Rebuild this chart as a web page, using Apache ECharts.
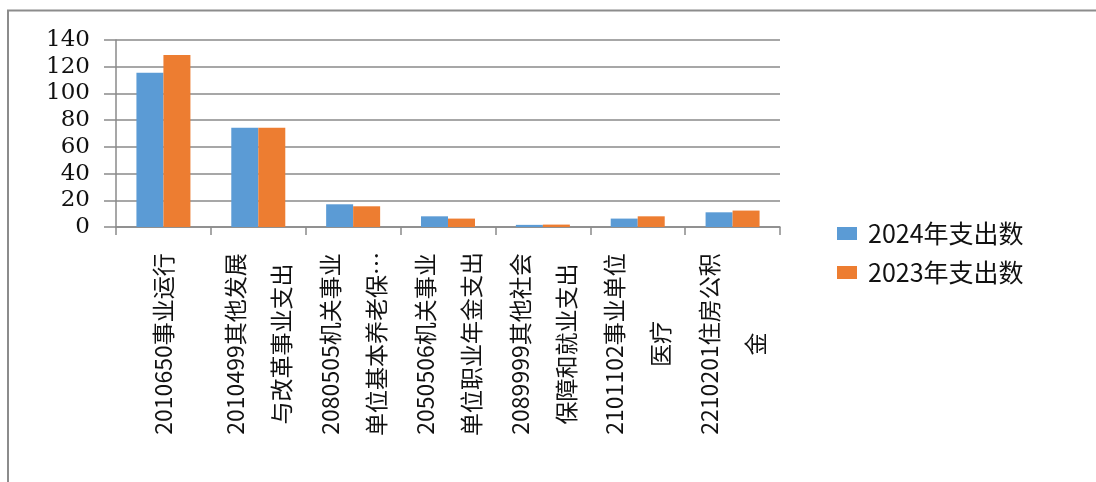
<!DOCTYPE html>
<html>
<head>
<meta charset="utf-8">
<script src="https://cdn.jsdelivr.net/npm/echarts@6/dist/echarts.min.js"></script>
<style>
html,body{margin:0;padding:0;background:#fff;}
#chart{width:1096px;height:482px;}
</style>
</head>
<body>
<div id="chart"></div>
<script>
var categories = [
  "2010650事业运行",
  "2010499其他发展\n与改革事业支出",
  "2080505机关事业\n单位基本养老保…",
  "2050506机关事业\n单位职业年金支出",
  "2089999其他社会\n保障和就业支出",
  "2101102事业单位\n医疗",
  "2210201住房公积\n金"
];
var seriesNames = ["2024年支出数", "2023年支出数"];
var values2024 = [115.5, 74.3, 17, 8, 1.6, 6.3, 11];
var values2023 = [128.8, 74.3, 15.5, 6.3, 1.8, 8, 12.3];
var yTicks = [0, 20, 40, 60, 80, 100, 120, 140];

var chart = echarts.init(document.getElementById('chart'), null, {renderer: 'canvas'});
var gray = '#8a8a8a';
var option = {
  backgroundColor: '#ffffff',
  animation: false,
  graphic: [{
    type: 'polyline',
    shape: {points: [[8, 482], [8, 10.5], [1096, 10.5]]},
    style: {fill: 'none', stroke: '#8c8c8c', lineWidth: 2},
    silent: true
  }],
  legend: {
    orient: 'vertical',
    left: 832,
    top: 216,
    itemWidth: 20,
    itemHeight: 13,
    itemGap: 14,
    icon: 'rect',
    textStyle: {fontSize: 25, color: '#111', fontFamily: 'Noto Sans CJK SC', padding: [0, 0, 0, 6]},
    data: seriesNames
  },
  grid: {left: 116, right: 316, top: 40, bottom: 255, containLabel: false},
  xAxis: {
    type: 'category',
    data: categories,
    axisLine: {lineStyle: {color: gray, width: 1.5}},
    axisTick: {show: true, length: 8, lineStyle: {color: gray, width: 1.5}},
    axisLabel: {
      interval: 0,
      rotate: 90,
      align: 'center',
      verticalAlign: 'middle',
      margin: 117,
      fontSize: 23,
      lineHeight: 46,
      color: '#111',
      fontFamily: 'Noto Sans CJK SC'
    }
  },
  yAxis: {
    type: 'value',
    min: 0,
    max: 140,
    interval: 20,
    axisLine: {show: true, lineStyle: {color: gray, width: 1.5}},
    axisTick: {show: true, length: 12, lineStyle: {color: gray, width: 1.5}},
    splitLine: {lineStyle: {color: gray, width: 1.5}},
    axisLabel: {
      margin: 26,
      fontSize: 23,
      color: '#111',
      fontFamily: 'DejaVu Serif',
      formatter: function (v) { return yTicks.indexOf(v) >= 0 ? String(v) : ''; }
    }
  },
  series: [
    {name: seriesNames[0], type: 'bar', data: values2024, barWidth: 27, barGap: '0%',
     itemStyle: {color: '#5B9BD5'}},
    {name: seriesNames[1], type: 'bar', data: values2023, barWidth: 27, barGap: '0%',
     itemStyle: {color: '#ED7D31'}}
  ]
};
chart.setOption(option);
</script>
</body>
</html>
